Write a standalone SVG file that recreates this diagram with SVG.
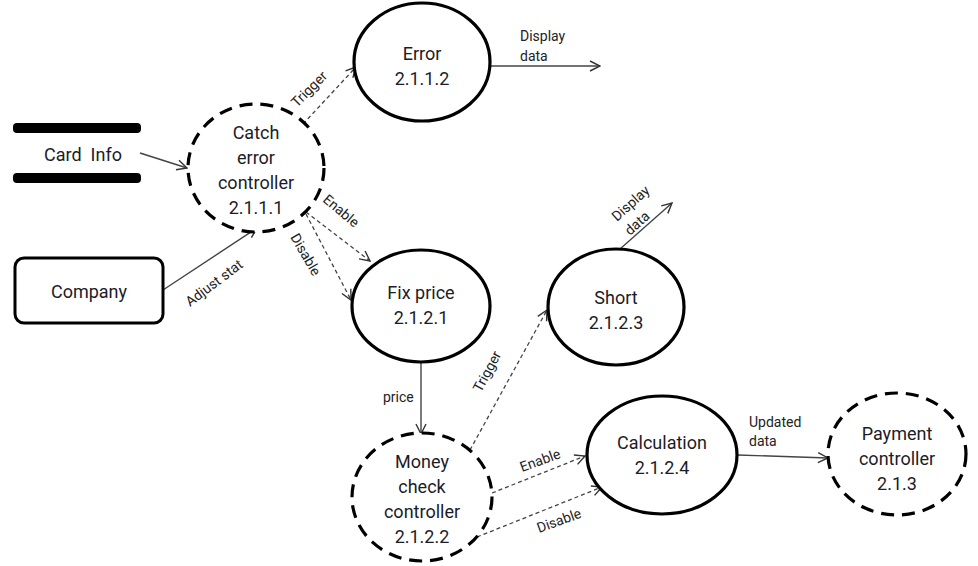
<svg xmlns="http://www.w3.org/2000/svg" width="978" height="566" viewBox="0 0 978 566">
  <defs>
    <marker id="arrow" viewBox="0 0 12 12" refX="11" refY="6" markerWidth="12" markerHeight="12" markerUnits="userSpaceOnUse" orient="auto">
      <path d="M1,1 L11,6 L1,11" fill="none" stroke="#333" stroke-width="1.4"/>
    </marker>
    <style>
      .proc { fill: #fff; stroke: #000; stroke-width: 3.2; }
      .ctrl { fill: #fff; stroke: #000; stroke-width: 3.2; stroke-dasharray: 13 8; }
      .flow { fill: none; stroke: #444; stroke-width: 1.4; marker-end: url(#arrow); }
      .ctl { fill: none; stroke: #444; stroke-width: 1.3; stroke-dasharray: 4 3; marker-end: url(#arrow); }
      .node { font-family: Roboto, "Noto Sans", sans-serif; font-size: 18px; fill: #1c1c28; text-anchor: middle; }
      .lbl { font-family: Roboto, "Noto Sans", sans-serif; font-size: 14px; fill: #222; }
    </style>
  </defs>

  <!-- connectors -->
  <g id="connectors">
    <line class="flow" x1="140" y1="153" x2="187" y2="168"/>
    <line class="flow" x1="163" y1="290" x2="257" y2="228"/>
    <line class="ctl" x1="303" y1="124" x2="356" y2="67"/>
    <line class="flow" x1="491" y1="66" x2="600" y2="66"/>
    <line class="ctl" x1="306" y1="212" x2="370" y2="261"/>
    <line class="ctl" x1="306" y1="214" x2="351" y2="300"/>
    <line class="flow" x1="421" y1="362" x2="421" y2="434"/>
    <line class="ctl" x1="470" y1="450" x2="547" y2="310"/>
    <line class="flow" x1="620" y1="249" x2="672" y2="203"/>
    <line class="ctl" x1="492" y1="493" x2="585" y2="456"/>
    <line class="ctl" x1="477" y1="537" x2="602" y2="487"/>
    <line class="flow" x1="738" y1="455" x2="828" y2="458"/>

    <text class="lbl" transform="translate(297,108) rotate(-45)">Trigger</text>
    <text class="lbl" x="520" y="41">Display</text>
    <text class="lbl" x="520" y="61">data</text>
    <text class="lbl" transform="translate(190,307) rotate(-37)">Adjust stat</text>
    <text class="lbl" transform="translate(322,201) rotate(40)">Enable</text>
    <text class="lbl" transform="translate(290,237) rotate(60)">Disable</text>
    <text class="lbl" x="383" y="402">price</text>
    <text class="lbl" transform="translate(481,393) rotate(-62)">Trigger</text>
    <text class="lbl" transform="translate(617,222) rotate(-42)">Display</text>
    <text class="lbl" transform="translate(630,236) rotate(-42)">data</text>
    <text class="lbl" transform="translate(522,472) rotate(-20)">Enable</text>
    <text class="lbl" transform="translate(539,533) rotate(-20)">Disable</text>
    <text class="lbl" x="749" y="427">Updated</text>
    <text class="lbl" x="749" y="446">data</text>
  </g>

  <!-- card info data store -->
  <g id="card-info">
    <rect x="13" y="123" width="128" height="10" rx="4" fill="#000"/>
    <rect x="13" y="173" width="128" height="10" rx="4" fill="#000"/>
    <text class="node" x="83" y="161" style="white-space:pre">Card  Info</text>
  </g>

  <!-- external entity -->
  <g id="company">
    <rect x="15" y="258" width="148" height="65" rx="9" fill="#fff" stroke="#000" stroke-width="3"/>
    <text class="node" x="89" y="298">Company</text>
  </g>

  <g id="catch-error">
    <ellipse class="ctrl" cx="256" cy="168" rx="68" ry="64"/>
    <text class="node" x="256" y="139">Catch</text>
    <text class="node" x="256" y="164">error</text>
    <text class="node" x="256" y="189">controller</text>
    <text class="node" x="256" y="214">2.1.1.1</text>
  </g>

  <g id="error">
    <ellipse class="proc" cx="422" cy="62" rx="68" ry="59"/>
    <text class="node" x="422" y="60">Error</text>
    <text class="node" x="422" y="85">2.1.1.2</text>
  </g>

  <g id="fix-price">
    <ellipse class="proc" cx="421" cy="306" rx="69" ry="56"/>
    <text class="node" x="421" y="299">Fix price</text>
    <text class="node" x="421" y="324">2.1.2.1</text>
  </g>

  <g id="short">
    <ellipse class="proc" cx="616" cy="307" rx="68" ry="58"/>
    <text class="node" x="616" y="304">Short</text>
    <text class="node" x="616" y="329">2.1.2.3</text>
  </g>

  <g id="money-check">
    <ellipse class="ctrl" cx="422" cy="497" rx="70" ry="64"/>
    <text class="node" x="422" y="468">Money</text>
    <text class="node" x="422" y="493">check</text>
    <text class="node" x="422" y="518">controller</text>
    <text class="node" x="422" y="543">2.1.2.2</text>
  </g>

  <g id="calculation">
    <ellipse class="proc" cx="662" cy="455" rx="75" ry="59"/>
    <text class="node" x="662" y="449">Calculation</text>
    <text class="node" x="662" y="474">2.1.2.4</text>
  </g>

  <g id="payment">
    <ellipse class="ctrl" cx="897" cy="454" rx="69" ry="61"/>
    <text class="node" x="897" y="440">Payment</text>
    <text class="node" x="897" y="465">controller</text>
    <text class="node" x="897" y="490">2.1.3</text>
  </g>
</svg>
